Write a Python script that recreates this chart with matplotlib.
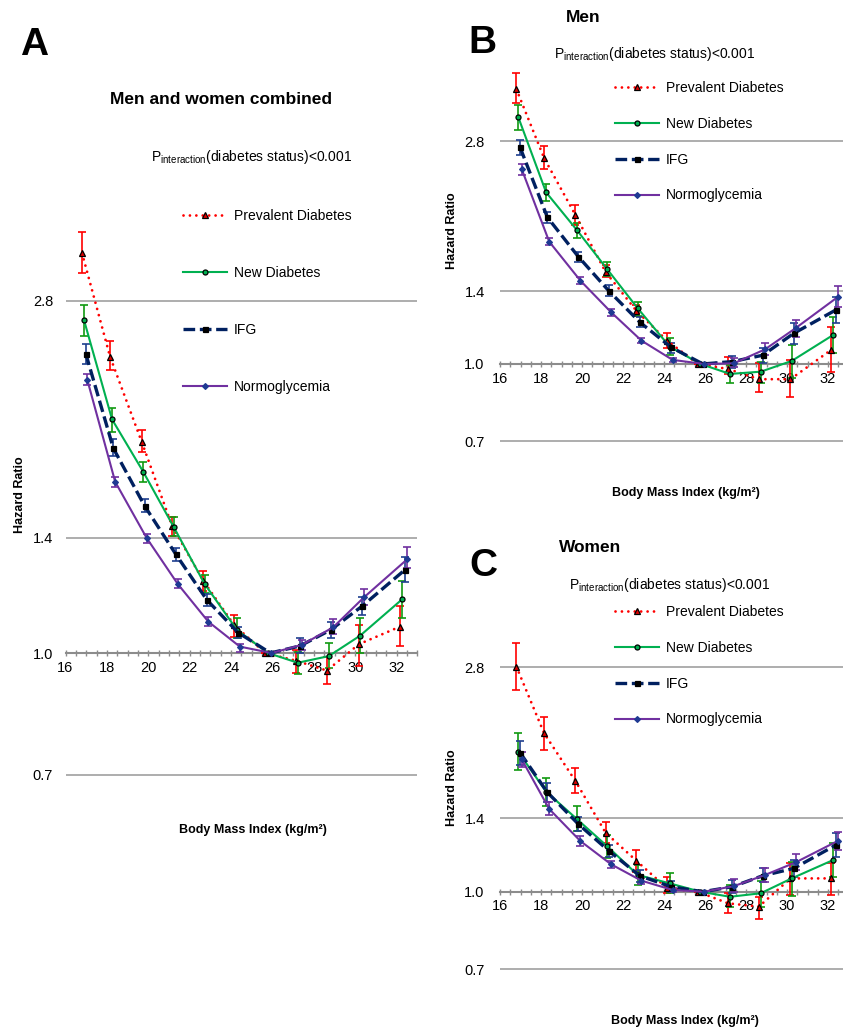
import numpy as np
import matplotlib
matplotlib.use("Agg")
import matplotlib.pyplot as plt
from matplotlib.ticker import FixedLocator, NullLocator, MultipleLocator, FixedFormatter

plt.rcParams['font.family'] = ['Liberation Sans', 'DejaVu Sans']
plt.rcParams['mathtext.fontset'] = 'custom'
plt.rcParams['mathtext.rm'] = 'Liberation Sans'

# =============================================================================
# Data (hazard ratios; reference BMI ~26 = 1.0)
# =============================================================================
series_names = ["Prevalent Diabetes", "New Diabetes", "IFG", "Normoglycemia"]

# mean BMI of each category, per group
x_prev = [16.80, 18.15, 19.68, 21.15, 22.65, 24.15, 25.65, 27.13, 28.63, 30.17, 32.15]
x_new = [16.89, 18.25, 19.75, 21.22, 22.72, 24.28, 25.78, 27.22, 28.72, 30.23, 32.26]
x_ifg = [16.98, 18.31, 19.82, 21.32, 22.83, 24.35, 25.90, 27.33, 28.81, 30.33, 32.39]
x_norm = [17.06, 18.40, 19.92, 21.42, 22.90, 24.42, 25.95, 27.41, 28.93, 30.42, 32.50]

# --- A: men and women combined ---
A_prev = [3.22, 2.38, 1.855, 1.45, 1.236, 1.085, 1.0, 0.978, 0.95, 1.026, 1.08]
A_prev_lo = [3.04, 2.29, 1.80, 1.41, 1.20, 1.049, 1.0, 0.944, 0.913, 0.963, 1.021]
A_prev_hi = [3.43, 2.49, 1.92, 1.49, 1.272, 1.117, 1.0, 1.009, 0.988, 1.085, 1.147]
A_new = [2.65, 1.98, 1.70, 1.447, 1.224, 1.07, 1.0, 0.972, 0.991, 1.052, 1.17]
A_new_lo = [2.53, 1.91, 1.65, 1.409, 1.191, 1.046, 1.0, 0.94, 0.956, 1.001, 1.107]
A_new_hi = [2.77, 2.05, 1.75, 1.488, 1.256, 1.108, 1.0, 1.004, 1.029, 1.107, 1.235]
A_ifg = [2.40, 1.82, 1.538, 1.336, 1.168, 1.061, 1.0, 1.021, 1.07, 1.147, 1.275]
A_ifg_lo = [2.33, 1.78, 1.51, 1.31, 1.147, 1.044, 1.0, 1.0, 1.044, 1.117, 1.23]
A_ifg_hi = [2.47, 1.87, 1.57, 1.36, 1.19, 1.078, 1.0, 1.044, 1.096, 1.179, 1.326]
A_norm = [2.22, 1.65, 1.40, 1.224, 1.096, 1.019, 1.0, 1.024, 1.078, 1.177, 1.315]
A_norm_lo = [2.19, 1.627, 1.378, 1.209, 1.083, 1.004, 1.0, 1.009, 1.057, 1.151, 1.281]
A_norm_hi = [2.26, 1.675, 1.416, 1.24, 1.11, 1.027, 1.0, 1.039, 1.104, 1.205, 1.362]

# --- B: men ---
B_prev = [3.56, 2.59, 1.99, 1.53, 1.279, 1.114, 1.0, 0.977, 0.932, 0.932, 1.067]
B_prev_lo = [3.34, 2.46, 1.90, 1.497, 1.248, 1.075, 1.0, 0.955, 0.88, 0.86, 0.965]
B_prev_hi = [3.84, 2.74, 2.08, 1.58, 1.313, 1.156, 1.0, 1.031, 1.003, 1.019, 1.185]
B_new = [3.13, 2.21, 1.857, 1.551, 1.293, 1.083, 1.0, 0.955, 0.965, 1.014, 1.144]
B_new_lo = [2.95, 2.12, 1.79, 1.505, 1.248, 1.043, 1.0, 0.917, 0.917, 0.936, 1.054]
B_new_hi = [3.31, 2.30, 1.92, 1.60, 1.334, 1.126, 1.0, 0.995, 1.011, 1.092, 1.244]
B_ifg = [2.72, 1.97, 1.642, 1.40, 1.212, 1.08, 1.0, 1.011, 1.041, 1.152, 1.284]
B_ifg_lo = [2.63, 1.92, 1.60, 1.37, 1.185, 1.054, 1.0, 0.983, 1.006, 1.095, 1.21]
B_ifg_hi = [2.82, 2.02, 1.68, 1.44, 1.24, 1.104, 1.0, 1.038, 1.078, 1.21, 1.365]
B_norm = [2.46, 1.76, 1.47, 1.27, 1.114, 1.019, 1.0, 1.003, 1.07, 1.18, 1.365]
B_norm_lo = [2.39, 1.73, 1.445, 1.25, 1.102, 1.009, 1.0, 0.988, 1.043, 1.134, 1.30]
B_norm_hi = [2.52, 1.79, 1.497, 1.29, 1.126, 1.029, 1.0, 1.027, 1.104, 1.225, 1.434]

# --- C: women ---
C_prev = [2.81, 2.07, 1.662, 1.311, 1.153, 1.016, 1.0, 0.948, 0.934, 1.063, 1.063]
C_prev_lo = [2.52, 1.917, 1.571, 1.249, 1.096, 0.995, 1.0, 0.906, 0.881, 0.985, 0.985]
C_prev_hi = [3.13, 2.23, 1.763, 1.379, 1.211, 1.071, 1.0, 0.993, 0.977, 1.139, 1.139]
C_new = [1.90, 1.583, 1.396, 1.233, 1.08, 1.039, 1.0, 0.977, 0.993, 1.063, 1.157]
C_new_lo = [1.748, 1.483, 1.321, 1.169, 1.031, 0.993, 1.0, 0.934, 0.934, 0.982, 1.071]
C_new_hi = [2.07, 1.688, 1.483, 1.297, 1.13, 1.088, 1.0, 1.031, 1.052, 1.147, 1.249]
C_ifg = [1.893, 1.578, 1.364, 1.205, 1.075, 1.023, 1.0, 1.023, 1.076, 1.113, 1.239]
C_ifg_lo = [1.79, 1.512, 1.321, 1.174, 1.047, 1.0, 1.0, 0.993, 1.044, 1.071, 1.174]
C_ifg_hi = [2.0, 1.644, 1.411, 1.239, 1.105, 1.052, 1.0, 1.055, 1.113, 1.157, 1.307]
C_norm = [1.836, 1.462, 1.262, 1.134, 1.052, 1.008, 1.0, 1.026, 1.08, 1.144, 1.264]
C_norm_lo = [1.775, 1.422, 1.232, 1.114, 1.037, 0.998, 1.0, 1.0, 1.047, 1.105, 1.211]
C_norm_hi = [1.90, 1.512, 1.292, 1.154, 1.067, 1.018, 1.0, 1.058, 1.117, 1.189, 1.317]

y_ticks = [0.7, 1.0, 1.4, 2.8]
y_ticklabels = ["0.7", "1.0", "1.4", "2.8"]
x_ticks = [16, 18, 20, 22, 24, 26, 28, 30, 32]

# =============================================================================
# Styles
# =============================================================================
styles = [
    dict(color="#ff0000", ls=(0, (0.01, 2.3)), lw=2.0, marker="^", ms=5, mfc="#e00000",
         mec="black", ecolor="#ff0000", cap="round"),
    dict(color="#00b050", ls="-", lw=1.5, marker="o", ms=3.6, mfc="#00b050",
         mec="black", ecolor="#109a10", cap="butt"),
    dict(color="#002060", ls=(0, (3.5, 1.4)), lw=2.4, marker="s", ms=3.6, mfc="black",
         mec="black", ecolor="#1f3f8f", cap="butt"),
    dict(color="#7030a0", ls="-", lw=1.5, marker="D", ms=3.0, mfc="#1f3a93",
         mec="#1f3a93", ecolor="#7030a0", cap="butt"),
]

W, H = 843, 1032
fig = plt.figure(figsize=(W / 100, H / 100), dpi=100)


def fx(px):
    return px / W


def fy(py):
    return 1 - py / H


def make_panel(rect, xs, vals, los, his, tick_pad):
    ax = fig.add_axes(rect)
    ax.set_yscale("log")
    ax.set_xlim(16, 33)
    ax.set_ylim(0.6, 4.0)
    handles = []
    for x, v, lo, hi, st in zip(xs, vals, los, his, styles):
        v = np.array(v)
        yerr = np.vstack([v - np.array(lo), np.array(hi) - v])
        ax.errorbar(x, v, yerr=yerr, fmt="none", ecolor=st["ecolor"], elinewidth=1.2,
                    capsize=3, capthick=1.2, zorder=3)
    for x, v, st, name in zip(xs, vals, styles, series_names):
        ln, = ax.plot(x, v, color=st["color"], ls=st["ls"], lw=st["lw"],
                      marker=st["marker"], ms=st["ms"], mfc=st["mfc"], mec=st["mec"],
                      mew=0.9, zorder=4, label=name)
        ln.set_dash_capstyle(st["cap"])
        handles.append(ln)
    # axes styling
    for s in ["left", "top", "right"]:
        ax.spines[s].set_visible(False)
    ax.spines["bottom"].set_position(("data", 1.0))
    ax.spines["bottom"].set_color("#8c8c8c")
    ax.spines["bottom"].set_linewidth(1.5)
    ax.xaxis.set_major_locator(FixedLocator(x_ticks))
    ax.xaxis.set_minor_locator(MultipleLocator(0.5))
    ax.tick_params(axis="x", which="both", direction="inout", length=5, width=1,
                   color="#8c8c8c", labelsize=10.5, pad=3)
    ax.yaxis.set_major_locator(FixedLocator(y_ticks))
    ax.yaxis.set_major_formatter(FixedFormatter(y_ticklabels))
    ax.yaxis.set_minor_locator(NullLocator())
    ax.tick_params(axis="y", length=0, labelsize=10.5, pad=tick_pad)
    for yv in [0.7, 1.4, 2.8]:
        ax.axhline(yv, color="#a0a0a0", lw=1.2, zorder=1)
    ax.patch.set_alpha(0)
    return ax, handles


p_text = r"P$_{\mathregular{interaction}}$(diabetes status)<0.001"
legend_kw = dict(loc="upper left", bbox_transform=fig.transFigure, frameon=False,
                 borderpad=0, borderaxespad=0, handlelength=3.2, handletextpad=0.45,
                 fontsize=10)

# --- Panel A ---
axA, hA = make_panel([fx(65.5), fy(827.7), 17 * 20.7 / W, 648.7 / H],
                     [x_prev, x_new, x_ifg, x_norm],
                     [A_prev, A_new, A_ifg, A_norm],
                     [A_prev_lo, A_new_lo, A_ifg_lo, A_norm_lo],
                     [A_prev_hi, A_new_hi, A_ifg_hi, A_norm_hi], 9)
axA.legend(hA, series_names, bbox_to_anchor=(fx(183), fy(209)), labelspacing=3.1, **legend_kw)

# --- Panel B ---
axB, hB = make_panel([fx(500), fy(474.5), 17 * 20.5 / W, 410.5 / H],
                     [x_prev, x_new, x_ifg, x_norm],
                     [B_prev, B_new, B_ifg, B_norm],
                     [B_prev_lo, B_new_lo, B_ifg_lo, B_norm_lo],
                     [B_prev_hi, B_new_hi, B_ifg_hi, B_norm_hi], 11)
axB.legend(hB, series_names, bbox_to_anchor=(fx(615), fy(81)), labelspacing=1.57, **legend_kw)

# --- Panel C ---
axC, hC = make_panel([fx(500), fy(1003), 17 * 20.5 / W, 413.3 / H],
                     [x_prev, x_new, x_ifg, x_norm],
                     [C_prev, C_new, C_ifg, C_norm],
                     [C_prev_lo, C_new_lo, C_ifg_lo, C_norm_lo],
                     [C_prev_hi, C_new_hi, C_ifg_hi, C_norm_hi], 11)
axC.legend(hC, series_names, bbox_to_anchor=(fx(615), fy(605)), labelspacing=1.57, **legend_kw)

# --- Text: panel letters, titles, labels ---
for letter, px, py in [("A", 34, 45), ("B", 482, 43), ("C", 483, 566)]:
    fig.text(fx(px), fy(py), letter, fontsize=28, fontweight="bold", ha="center", va="center")

fig.text(fx(221), fy(100), "Men and women combined", fontsize=12.5, fontweight="bold",
         ha="center", va="center")
fig.text(fx(583), fy(18), "Men", fontsize=12.5, fontweight="bold", ha="center", va="center")
fig.text(fx(590), fy(547), "Women", fontsize=12.5, fontweight="bold", ha="center", va="center")

fig.text(fx(252), fy(157), p_text, fontsize=10, ha="center", va="center")
fig.text(fx(655), fy(54), p_text, fontsize=10, ha="center", va="center")
fig.text(fx(670), fy(585), p_text, fontsize=10, ha="center", va="center")

xlabel = "Body Mass Index (kg/m²)"
fig.text(fx(253), fy(830), xlabel, fontsize=9, fontweight="bold", ha="center", va="center")
fig.text(fx(686), fy(493), xlabel, fontsize=9, fontweight="bold", ha="center", va="center")
fig.text(fx(685), fy(1021), xlabel, fontsize=9, fontweight="bold", ha="center", va="center")

for px, py in [(20, 495), (452, 231), (452, 788)]:
    fig.text(fx(px), fy(py), "Hazard Ratio", fontsize=9, fontweight="bold",
             rotation=90, ha="center", va="center")

fig.savefig("out.png", dpi=100)
